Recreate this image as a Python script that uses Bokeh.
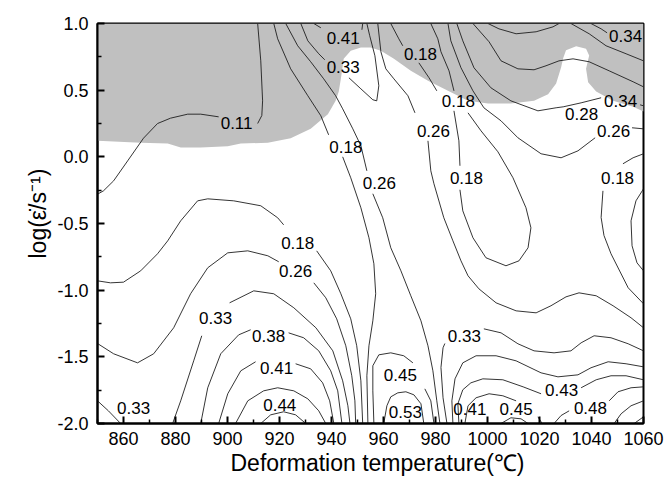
import numpy as np
from bokeh.plotting import figure
from bokeh.models import FixedTicker, NumeralTickFormatter, ColumnDataSource, Range1d, Title
from bokeh.embed import file_html
from bokeh.resources import INLINE
from bokeh.core.properties import value

N = None

# ---- axes ----
x_ticks = [860, 880, 900, 920, 940, 960, 980, 1000, 1020, 1040, 1060]
x_minor = [850, 870, 890, 910, 930, 950, 970, 990, 1010, 1030, 1050]
y_ticks = [-2.0, -1.5, -1.0, -0.5, 0.0, 0.5, 1.0]
y_minor = [-1.75, -1.25, -0.75, -0.25, 0.25, 0.75]
x_title = "Deformation temperature(℃)"
y_title = "log(ε̇/s⁻¹)"

# ---- instability region (grey) boundary: temperature, log strain rate ----
unstable_t = [850, 866.6, 877.0, 882.0, 889.7, 900.1, 905.1, 915.5, 924.3, 932.0, 938.6, 941.6,
              942.8, 943.6, 944.7, 947.4, 951.3, 955.1, 959.0, 964.0, 970.5, 977.1, 984.8, 992.5,
              1000.2, 1009.0, 1017.9, 1023.3, 1026.4, 1028.3, 1029.1, 1030.2, 1034.1, 1037.9,
              1039.1, 1037.9, 1038.7, 1041.8, 1048.3, 1056.0, 1060, 1060, 850]
unstable_v = [0.12, 0.105, 0.10, 0.07, 0.07, 0.08, 0.10, 0.105, 0.14, 0.21, 0.32, 0.42,
              0.49, 0.585, 0.735, 0.795, 0.82, 0.82, 0.795, 0.735, 0.645, 0.57, 0.495, 0.42,
              0.40, 0.40, 0.42, 0.47, 0.55, 0.67, 0.74, 0.80, 0.83, 0.81,
              0.76, 0.66, 0.56, 0.49, 0.42, 0.375, 0.34, 1.0, 1.0]

# ---- efficiency contour lines (None = gap at a label) ----
a_t = [911.6, 912.8, 913.5, 913.2, 911.6, N, 896.6, 889.7, 884.7, 878.1, 873.1, 867.7, 861.6, 856.2, 852.3, 850]
a_v = [1.0, 0.72, 0.42, 0.31, 0.25, N, 0.30, 0.32, 0.32, 0.29, 0.25, 0.14, -0.03, -0.18, -0.255, -0.28]

b_t = [850, 855, 860, 866.6, 873.1, 877, 882, 888.5, 892.4, 902.4, 912.8, 919.3, 921.6, N,
       934.3, 939.7, 943.6, 947.4, 949.7, 951.3, 952.0]
b_v = [-0.93, -0.945, -0.94, -0.855, -0.727, -0.63, -0.48, -0.33, -0.315, -0.33, -0.367, -0.457, -0.51, N,
       -0.705, -0.855, -1.027, -1.215, -1.417, -1.68, -2.0]

c_t = [850, 856.2, 865.4, 871.6, 879.3, 885.8, 892.4, 900.1, 907.8, 915.5, 919.7, N,
       933.2, 937.8, 942.0, 945.5, 947.8, 949.0, 949.3]
c_v = [-1.40, -1.477, -1.545, -1.477, -1.282, -1.027, -0.832, -0.72, -0.705, -0.742, -0.787, N,
       -0.945, -1.057, -1.215, -1.417, -1.642, -1.83, -2.0]

d_t = [878.9, 882, 887, 890.1, N, 900.8, 910.1, 917.8, 925.5, 934, 940.5, 944.3, 946.3, 947.1]
d_v = [-2.0, -1.83, -1.53, -1.342, N, -1.095, -1.005, -1.027, -1.132, -1.282, -1.455, -1.68, -1.867, -2.0]

e_t = [889.7, 892.4, 897.4, 904.3, 908.9, N, 923.5, 929.3, 935.1, 939.7, 942.4, 944.0]
e_v = [-2.0, -1.732, -1.477, -1.335, -1.297, N, -1.32, -1.357, -1.455, -1.605, -1.755, -2.0]

f_t = [896.6, 900.1, 905.1, 910.8, N, 926.2, 932, 936.6, 939.3, 940.9]
f_v = [-2.0, -1.777, -1.605, -1.537, N, -1.552, -1.59, -1.695, -1.83, -2.0]

g_t = [903.1, 907.8, 913.9, 919.3, 925.5, 930.9, 935.1, 937.8]
g_v = [-2.0, -1.83, -1.755, -1.732, -1.755, -1.815, -1.905, -2.0]

h_t = [912.8, 916.6, 921.6, 926.2, 930.1]
h_v = [-2.0, -1.935, -1.912, -1.935, -2.0]

i_t = [850, 854.2, 858.9]
i_v = [-1.83, -1.905, -2.0]

l1_t = [917.8, 919.3, 924.3, 930.9, 935.9, 938.9, N, 944.3, 947.4, 951.3, 954.4, 956.3, 957.0, 955.9, 954.4, 953.6, 954.0]
l1_v = [1.0, 0.885, 0.66, 0.458, 0.308, 0.165, N, 0.0, -0.157, -0.382, -0.607, -0.802, -1.027, -1.23, -1.417, -1.642, -2.0]

l2_t = [922.4, 927, 932, 937, 941.6, 944.3, 948.2, 951.3, 953.6, N,
        955.9, 959.7, 962.8, 966.7, 970.5, 974.4, 977.1, 979.0, 980.5, 981.7]
l2_v = [1.0, 0.833, 0.713, 0.585, 0.458, 0.36, 0.21, 0.083, -0.105, N,
        -0.277, -0.457, -0.682, -0.855, -1.042, -1.23, -1.417, -1.605, -1.83, -2.0]

l3_t = [957.8, 959.0, 960.9, 964.0, 969.4, 972.1, N, 977.1, 978.2, 979.4, 983.2, 986.7, 989.8, 992.5,
        996.7, 1003.3, 1011.0, 1018.7, 1024.4, 1030.2, 1035.2, 1041.8, 1048.3, 1055.2, 1060]
l3_v = [1.0, 0.788, 0.66, 0.585, 0.458, 0.33, N, 0.12, -0.105, -0.202, -0.457, -0.63, -0.78, -0.892,
        -0.99, -1.095, -1.155, -1.17, -1.117, -1.05, -1.02, -1.042, -1.117, -1.207, -1.282]

m_t = [962.8, 965.9, 967.4, N, 973.6, 977.5, 980.5, N, 992.5, 997.5, 1004.0, 1009.8, 1014.8, 1016.7,
       1015.6, 1012.1, 1007.1, 999.4, 994.4, 990.5, 989.4, N, 989.4, 989.0, 987.1, N,
       987.1, 985.2, 982.1, 980.9, 978.2]
m_v = [1.0, 0.885, 0.833, N, 0.705, 0.593, 0.495, N, 0.33, 0.195, 0.038, -0.157, -0.382, -0.532,
       -0.682, -0.78, -0.817, -0.757, -0.607, -0.405, -0.247, N, -0.067, 0.12, 0.345, N,
       0.495, 0.645, 0.788, 0.885, 1.0]

gm_t = [984.8, 985.9, 989.8, 994.4, 998.6, 1005.2, 1011.7, 1020.6, 1028.3, 1034.8, 1041.4, N, 1055.6, 1060]
gm_v = [1.0, 0.87, 0.668, 0.495, 0.368, 0.27, 0.143, 0.023, -0.007, 0.045, 0.143, N, 0.218, 0.21]

dl_t = [988.2, 990.5, 994.8, 1001.3, 1009.0, 1019.4, 1026.4, 1029.1, 1036.0, 1043.7, N, 1058.7, 1060]
dl_v = [1.0, 0.87, 0.668, 0.518, 0.42, 0.345, 0.368, 0.375, 0.405, 0.443, N, 0.39, 0.383]

ep_t = [994.4, 1000.6, 1005.2, 1011.7, 1017.9, 1022.5, 1027.5, 1032.9, 1039.1, 1046.8, 1056.0, 1060]
ep_v = [1.0, 0.863, 0.72, 0.66, 0.653, 0.683, 0.72, 0.735, 0.713, 0.645, 0.563, 0.525]

ar_t = [1000.2, 1004.4, 1011.0, 1018.7, 1025.2, 1027.5]
ar_v = [1.0, 0.96, 0.923, 0.938, 0.975, 1.0]

th_t = [1039.8, 1043.7, 1046.0]
th_v = [1.0, 0.96, 0.93]

th2_t = [1032.1, 1039.1, 1045.6, 1053.3, 1060]
th2_v = [1.0, 0.923, 0.833, 0.773, 0.72]

e18_t = [1060, 1056.0, 1052.1, N, 1044.4, 1043.7, 1044.8, 1047.5, 1054.1, 1060]
e18_v = [0.023, -0.007, -0.052, N, -0.255, -0.455, -0.59, -0.727, -0.982, -1.102]

lp_t = [1060, 1057.1, 1055.2, 1055.6, 1057.5, 1060]
lp_v = [-0.24, -0.33, -0.48, -0.667, -0.795, -0.855]

r33_t = [984.4, 982.9, 982.1, 982.9, 983.6, N, 998.6, 1005.2, 1011.7, 1017.9, 1025.6, 1032.1, 1036.0,
         1041.0, 1047.5, 1054.1, 1060]
r33_v = [-2.0, -1.807, -1.58, -1.432, -1.40, N, -1.29, -1.32, -1.402, -1.455, -1.47, -1.455, -1.395,
         -1.342, -1.357, -1.402, -1.455]

k_t = [986.7, 986.3, 987.5, 990.5, 995.6, 1003.3, 1011.0, 1020.6, 1027.1, 1034.8, 1039.8, 1046.4, 1053.3, 1060]
k_v = [-2.0, -1.83, -1.665, -1.545, -1.492, -1.492, -1.53, -1.62, -1.65, -1.635, -1.582, -1.537, -1.552, -1.575]

q43_t = [989.0, 988.6, 990.5, 993.6, 998.2, 1005.9, 1013.7, 1020.6, N, 1036.0, 1041.8, 1047.5, 1053.3, 1060]
q43_v = [-2.0, -1.852, -1.747, -1.695, -1.665, -1.672, -1.725, -1.777, N, -1.732, -1.672, -1.642, -1.642, -1.672]

a45_t = [991.3, 992.5, 995.6, 1000.6, 1005.9, 1011.0, N, 1019.4, 1021.0]
a45_v = [-2.0, -1.867, -1.807, -1.777, -1.792, -1.83, N, -1.95, -2.0]

sa_t = [1005.2, 1009.0, 1012.9, 1015.6]
sa_v = [-2.0, -1.957, -1.965, -2.0]

q48_t = [1025.6, 1028.3, 1031.4, N, 1046.8, 1050.2, 1055.2, 1060]
q48_v = [-2.0, -1.94, -1.905, N, -1.83, -1.762, -1.732, -1.725]

x1_t = [1048.7, 1051.4, 1055.2, 1060]
x1_v = [-2.0, -1.927, -1.867, -1.83]

x2_t = [1056.4, 1060]
x2_v = [-2.0, -1.95]

b45_t = [956.3, 955.9, 955.9, 958.2, 962.8, 967.8, 971.3, N, 975.9, 978.2, 979.4]
b45_v = [-2.0, -1.755, -1.567, -1.485, -1.47, -1.492, -1.545, N, -1.74, -1.83, -2.0]

b53_t = [960.1, 961.3, 962.8, 965.5, 968.6, 971.7, 974.4, 975.5]
b53_v = [-2.0, -1.867, -1.8, -1.77, -1.762, -1.785, -1.852, -2.0]

v33_t = [928.2, 930.9, 935.1, 937.4, N, 946.7, 951.3, 955.9, 957.4, 958.2, 956.7, 954.7, 953.6]
v33_v = [1.0, 0.87, 0.773, 0.728, N, 0.593, 0.51, 0.428, 0.42, 0.533, 0.758, 0.908, 1.0]

w41_t = [933.2, 935.9, N, 951.7, 952.0]
w41_v = [1.0, 0.968, N, 0.953, 1.0]

# ---- contour labels ----
label_t = [903.5, 927.0, 926.2, 895.4, 915.8, 918.9, 920.1, 863.9, 945.5, 958.4, 979.2,
           974.2, 988.8, 991.9, 1048.5, 1051.2, 1036.2, 1053.1, 1050.0, 991.1, 1028.5,
           1011.0, 993.2, 1039.6, 966.5, 968.4, 944.5, 944.5]
label_v = [0.255, -0.645, -0.855, -1.207, -1.342, -1.582, -1.86, -1.882, 0.075, -0.195, 0.195,
           0.773, 0.42, -0.157, 0.195, 0.42, 0.323, 0.908, -0.157, -1.342, -1.747,
           -1.89, -1.89, -1.882, -1.635, -1.912, 0.675, 0.893]
label_text = ["0.11", "0.18", "0.26", "0.33", "0.38", "0.41", "0.44", "0.33", "0.18", "0.26", "0.26",
              "0.18", "0.18", "0.18", "0.26", "0.34", "0.28", "0.34", "0.18", "0.33", "0.43",
              "0.45", "0.41", "0.48", "0.45", "0.53", "0.33", "0.41"]

contours = [(a_t, a_v), (b_t, b_v), (c_t, c_v), (d_t, d_v), (e_t, e_v), (f_t, f_v), (g_t, g_v),
            (h_t, h_v), (i_t, i_v), (l1_t, l1_v), (l2_t, l2_v), (l3_t, l3_v), (m_t, m_v),
            (gm_t, gm_v), (dl_t, dl_v), (ep_t, ep_v), (ar_t, ar_v), (th_t, th_v), (th2_t, th2_v),
            (e18_t, e18_v), (lp_t, lp_v), (r33_t, r33_v), (k_t, k_v), (q43_t, q43_v),
            (a45_t, a45_v), (sa_t, sa_v), (q48_t, q48_v), (x1_t, x1_v), (x2_t, x2_v),
            (b45_t, b45_v), (b53_t, b53_v), (v33_t, v33_v), (w41_t, w41_v)]


def split(ts, vs):
    segs, cx, cy = [], [], []
    for t, v in zip(ts, vs):
        if t is None:
            if len(cx) > 1:
                segs.append((cx, cy))
            cx, cy = [], []
        else:
            cx.append(t)
            cy.append(v)
    if len(cx) > 1:
        segs.append((cx, cy))
    return segs


xs, ys = [], []
for ts, vs in contours:
    for sx, sy in split(ts, vs):
        xs.append(sx)
        ys.append(sy)

FONT = "Liberation Sans"

p = figure(width=664, height=486, x_range=Range1d(850, 1060), y_range=Range1d(-2, 1),
           output_backend="svg", toolbar_location=None,
           min_border_left=97, min_border_right=21, min_border_top=23, min_border_bottom=63)
p.grid.visible = False
p.background_fill_color = "white"
p.border_fill_color = "white"
p.outline_line_color = "black"
p.outline_line_width = 2
p.outline_line_alpha = 1.0

p.patch(unstable_t, unstable_v, fill_color="#c0c0c0", line_color=None)
p.multi_line(xs, ys, line_color="#1e1e1e", line_width=0.9)

src = ColumnDataSource(dict(x=label_t, y=label_v, text=label_text))
p.text(x="x", y="y", text="text", source=src, text_font=value(FONT), text_font_size="17px",
       text_align="center", text_baseline="middle", text_color="black")

for ax in (p.xaxis[0], p.yaxis[0]):
    ax.axis_line_width = 2
    ax.axis_line_color = "black"
    ax.major_tick_in = 7
    ax.major_tick_out = 0
    ax.minor_tick_in = 4
    ax.minor_tick_out = 0
    ax.major_tick_line_width = 2
    ax.minor_tick_line_width = 1.5
    ax.major_label_text_font = FONT
    ax.major_label_text_font_size = "18px"
    ax.major_label_text_color = "black"

p.xaxis.ticker = FixedTicker(ticks=x_ticks, minor_ticks=x_minor)
p.yaxis.ticker = FixedTicker(ticks=y_ticks, minor_ticks=y_minor)
p.xaxis.formatter = NumeralTickFormatter(format="0")
p.yaxis.formatter = NumeralTickFormatter(format="0.0")
p.xaxis.major_label_standoff = 8
p.yaxis.major_label_standoff = 9

# axis titles as side titles (so they can be offset like the reference)
p.add_layout(Title(text=x_title, align="left", offset=133, text_font=FONT, text_font_size="23px",
                   text_font_style="normal", text_color="black", standoff=0), "below")
p.add_layout(Title(text=y_title, align="left", offset=165, text_font=FONT, text_font_size="23px",
                   text_font_style="normal", text_color="black", standoff=8), "left")

open("out.html", "w").write(file_html(p, INLINE))
